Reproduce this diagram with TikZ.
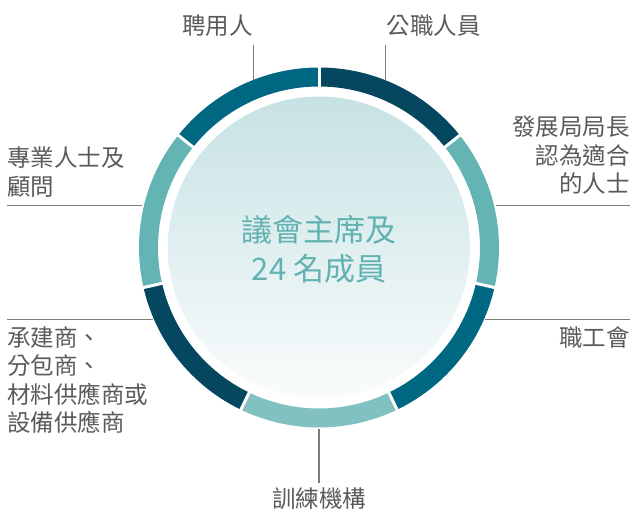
\documentclass[tikz,border=0pt]{standalone}
\usepackage{fontspec}
\setmainfont{Noto Sans CJK TC}
\usepackage{tikz}
\usetikzlibrary{positioning}

\definecolor{ringDark}{RGB}{4,71,94}
\definecolor{ringMid}{RGB}{0,103,131}
\definecolor{ringLight}{RGB}{101,180,180}
\definecolor{ringPale}{RGB}{130,193,193}
\definecolor{discTop}{RGB}{199,226,228}
\definecolor{discBottom}{RGB}{250,252,252}
\definecolor{titleTeal}{RGB}{98,178,178}
\definecolor{labelGray}{RGB}{90,90,90}
\definecolor{leaderGray}{RGB}{125,125,125}

\tikzset{
  lbl/.style={inner sep=0pt, text=labelGray, font=\fontsize{23.5}{28.5}\selectfont},
  leader/.style={draw=leaderGray, line width=1.3pt},
  gapline/.style={draw=white, line width=3pt}
}

\begin{document}
\begin{tikzpicture}[x=1pt,y=1pt]
\useasboundingbox (0,0) rectangle (630,512);

% centre disc and ring
\begin{scope}[shift={(319,264.5)}]
\shade[top color=discTop, bottom color=discBottom] (0,0) circle (151);
\fill[ringMid] (90:180) arc[start angle=90, end angle=141.43, radius=180] -- (141.43:161) arc[start angle=141.43, end angle=90, radius=161] -- cycle;
\fill[ringDark] (38.57:180) arc[start angle=38.57, end angle=90, radius=180] -- (90:161) arc[start angle=90, end angle=38.57, radius=161] -- cycle;
\fill[ringLight] (-12.86:180) arc[start angle=-12.86, end angle=38.57, radius=180] -- (38.57:161) arc[start angle=38.57, end angle=-12.86, radius=161] -- cycle;
\fill[ringMid] (-64.29:180) arc[start angle=-64.29, end angle=-12.86, radius=180] -- (-12.86:161) arc[start angle=-12.86, end angle=-64.29, radius=161] -- cycle;
\fill[ringPale] (-115.71:180) arc[start angle=-115.71, end angle=-64.29, radius=180] -- (-64.29:161) arc[start angle=-64.29, end angle=-115.71, radius=161] -- cycle;
\fill[ringDark] (-167.14:180) arc[start angle=-167.14, end angle=-115.71, radius=180] -- (-115.71:161) arc[start angle=-115.71, end angle=-167.14, radius=161] -- cycle;
\fill[ringLight] (141.43:180) arc[start angle=141.43, end angle=192.86, radius=180] -- (192.86:161) arc[start angle=192.86, end angle=141.43, radius=161] -- cycle;
\foreach \a in {90,38.57,-12.86,-64.29,-115.71,-167.14,141.43}
  \draw[gapline] (\a:158) -- (\a:183);
\end{scope}

\node[text=titleTeal, align=center, font=\fontsize{31}{39.5}\selectfont] (title) at (319,263)
{議會主席及\\24 名成員};

% labels
\node[lbl, anchor=east] (employer) at (253,486) {聘用人};
\node[lbl, anchor=west] (publicOfficer) at (386.5,486) {公職人員};
\node[lbl, anchor=north east, align=right] (secretary) at (630,396) {發展局局長\\認為適合\\的人士};
\node[lbl, anchor=north west, align=left] (professional) at (7,365) {專業人士及\\顧問};
\node[lbl, anchor=north west, align=left] (contractor) at (7,186) {承建商、\\分包商、\\材料供應商或\\設備供應商};
\node[lbl, anchor=north east] (union) at (630,186) {職工會};
\node[lbl, anchor=north] (training) at (319,25) {訓練機構};

% leader lines
\coordinate (employerTop) at (253.5,467);
\coordinate (employerRing) at (253.5,432);
\coordinate (publicTop) at (385.5,467);
\coordinate (publicRing) at (385.5,432);
\coordinate (secretaryEnd) at (630,306.3);
\coordinate (secretaryRing) at (496,306.3);
\coordinate (professionalEnd) at (7,306.3);
\coordinate (professionalRing) at (142,306.3);
\coordinate (contractorEnd) at (7,192.7);
\coordinate (contractorRing) at (153,192.7);
\coordinate (unionEnd) at (630,192.7);
\coordinate (unionRing) at (485,192.7);
\coordinate (trainingRing) at (319,83);
\coordinate (trainingEnd) at (319,29);

\draw[leader] (employerTop) -- (employerRing);
\draw[leader] (publicTop) -- (publicRing);
\draw[leader] (secretaryEnd) -- (secretaryRing);
\draw[leader] (professionalEnd) -- (professionalRing);
\draw[leader] (contractorEnd) -- (contractorRing);
\draw[leader] (unionEnd) -- (unionRing);
\draw[leader] (trainingRing) -- (trainingEnd);
\end{tikzpicture}
\end{document}
